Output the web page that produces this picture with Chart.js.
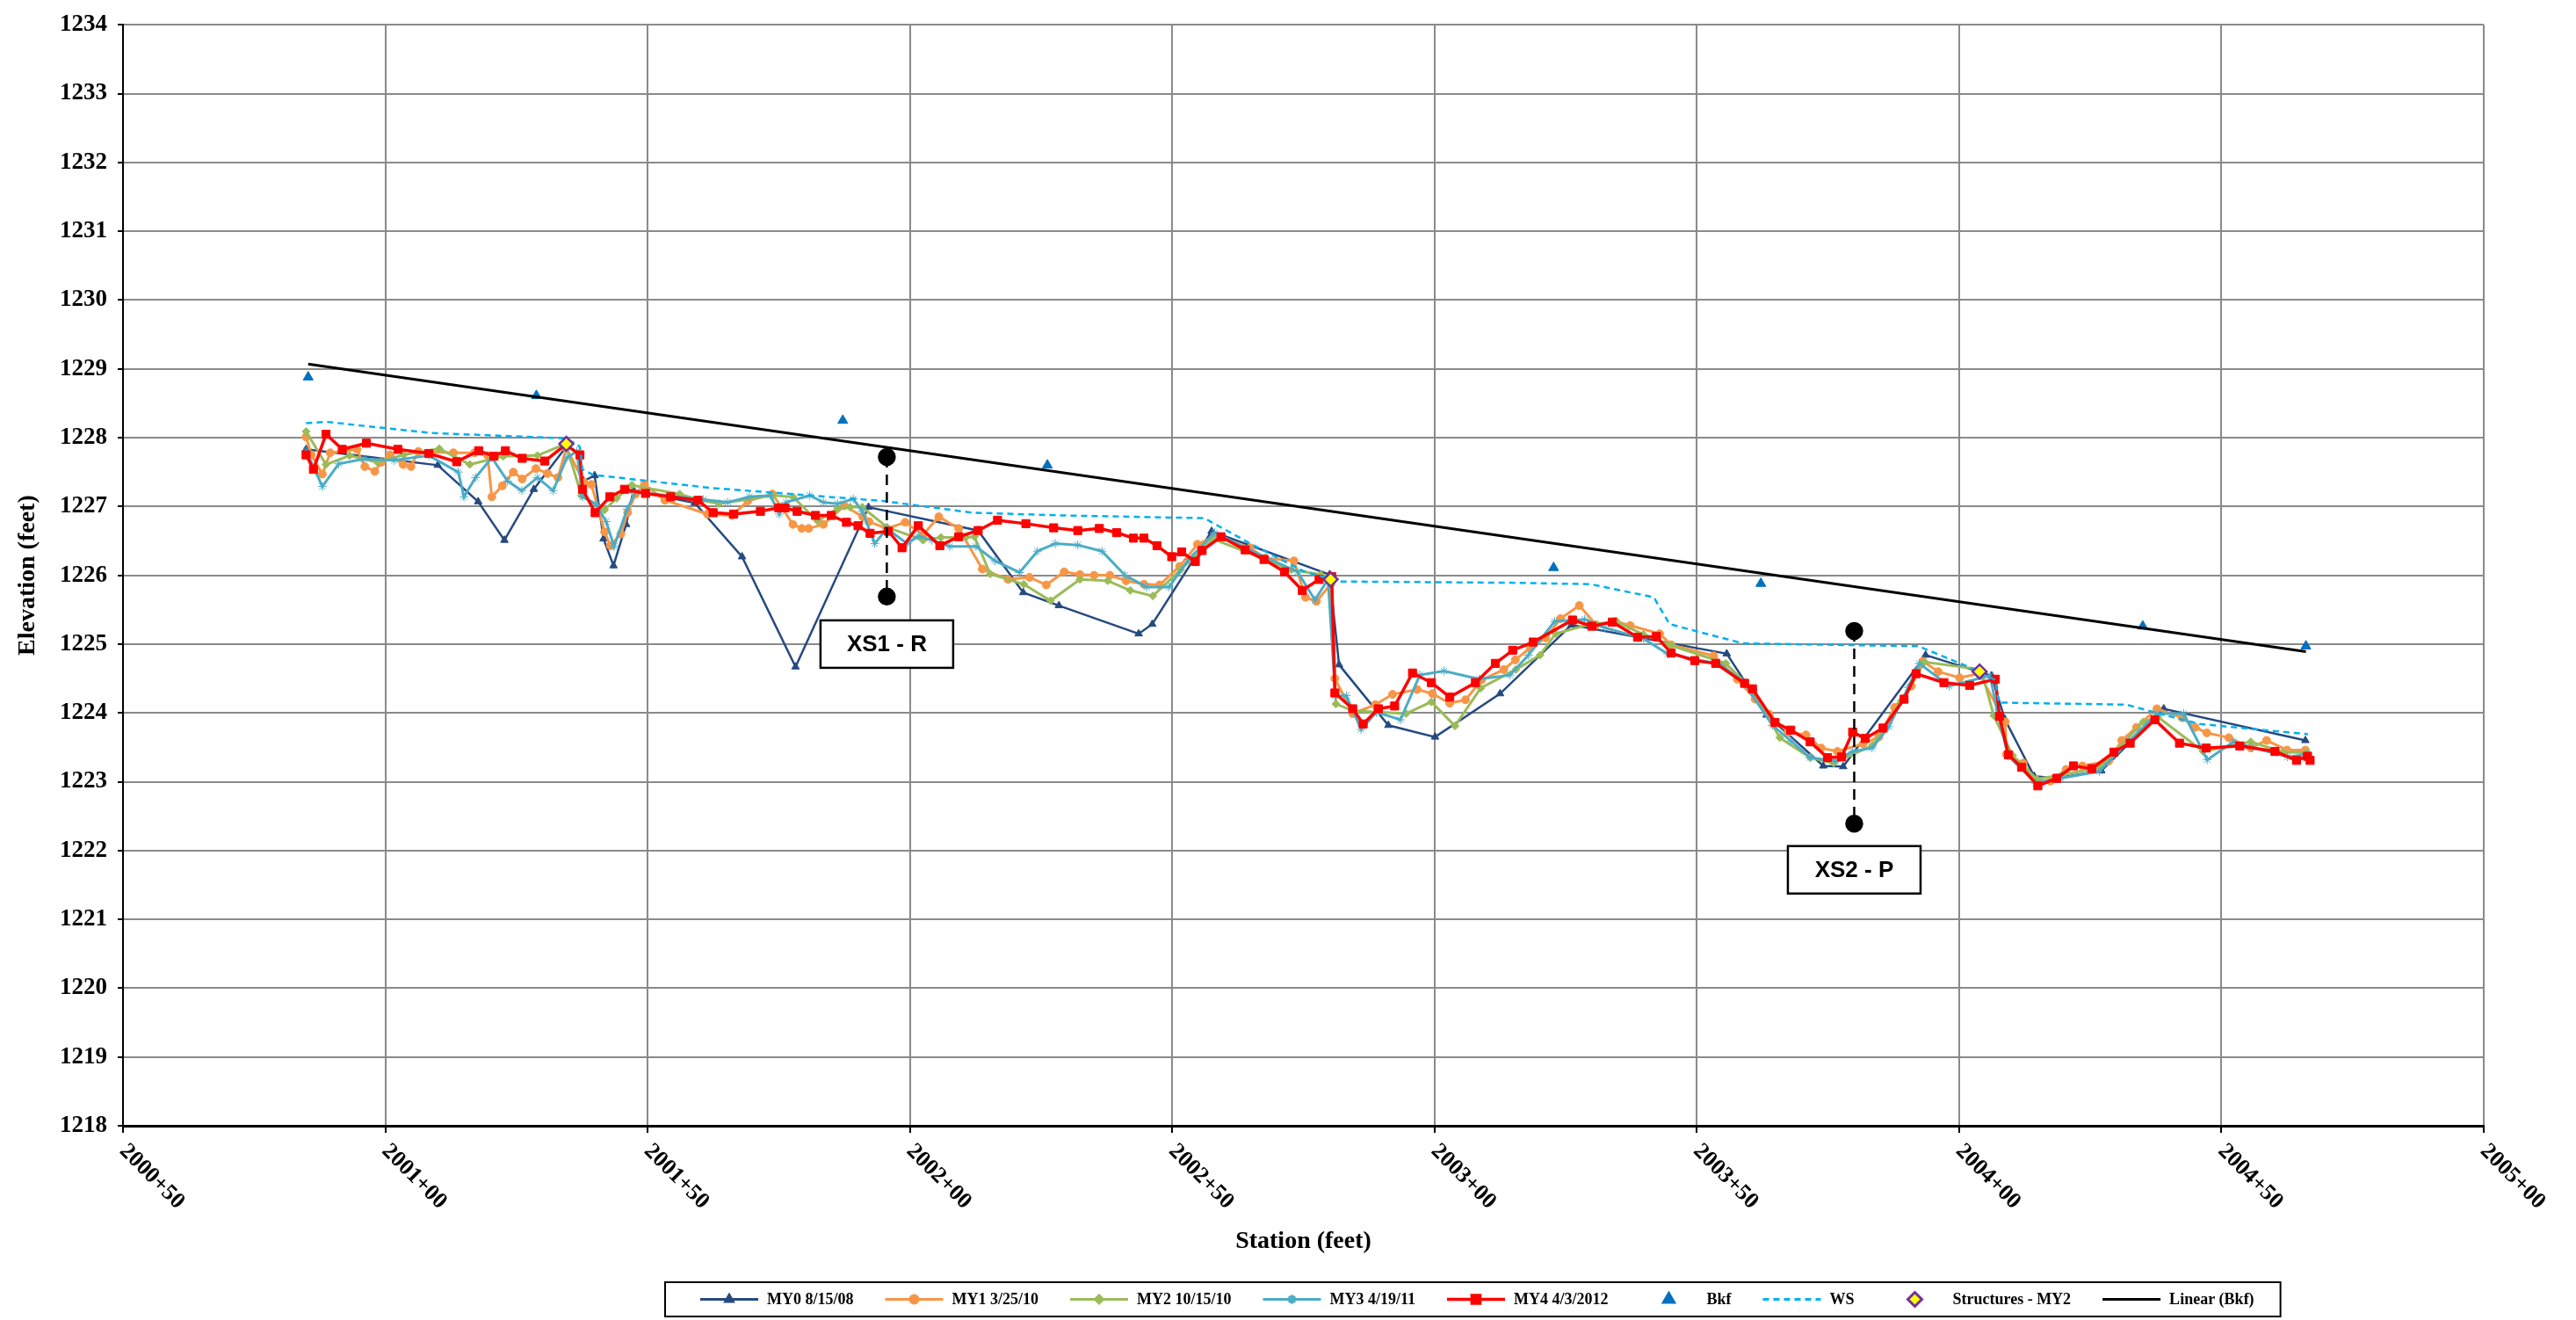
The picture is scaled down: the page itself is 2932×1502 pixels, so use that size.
<!DOCTYPE html>
<html>
<head>
<meta charset="utf-8">
<title>Longitudinal Profile</title>
<script src="https://cdn.jsdelivr.net/npm/chart.js@4.4.1/dist/chart.umd.min.js"></script>
<style>
    html, body { margin: 0; padding: 0; background: #fff; }
    #wrap { width: 2932px; height: 1502px; }
</style>
</head>
<body>
<div id="wrap"><canvas id="profileChart"></canvas></div>
<script>
// stations are feet past 2000+00, elevations in feet

const xTickValues = [50, 100, 150, 200, 250, 300, 350, 400, 450, 500];

const my0Sta = [84.9, 110.0, 117.7, 122.7, 128.3, 134.4, 137.8, 139.9, 141.6, 143.5, 145.9, 147.3, 159.0, 168.0, 178.2, 192.1, 213.0, 221.6, 228.4, 243.6, 246.2, 257.5, 280.0, 281.8, 291.2, 300.1, 312.5, 326.1, 355.7, 363.3, 374.1, 377.9, 393.6, 406.2, 408.7, 414.3, 418.5, 427.1, 439.0, 466.0];
const my0Elev = [1227.83, 1227.60, 1227.07, 1226.51, 1227.25, 1227.86, 1227.37, 1227.45, 1226.53, 1226.14, 1226.74, 1227.23, 1227.05, 1226.27, 1224.67, 1226.99, 1226.65, 1225.75, 1225.56, 1225.15, 1225.29, 1226.64, 1226.01, 1224.70, 1223.82, 1223.65, 1224.28, 1225.28, 1224.86, 1223.97, 1223.23, 1223.22, 1224.84, 1224.54, 1223.91, 1223.08, 1223.05, 1223.16, 1224.06, 1223.60];

const my1Sta = [84.9, 85.9, 88.0, 89.5, 94.6, 96.1, 98.0, 99.2, 100.9, 103.4, 104.9, 106.3, 113.0, 117.0, 119.5, 120.3, 122.3, 124.4, 126.1, 128.7, 130.9, 132.9, 134.5, 137.9, 139.3, 141.8, 142.9, 144.9, 146.2, 147.7, 149.4, 153.3, 161.4, 166.1, 169.1, 173.8, 177.7, 179.4, 180.7, 183.5, 187.5, 191.0, 192.2, 195.6, 199.1, 202.5, 205.5, 209.3, 213.8, 218.7, 222.8, 226.0, 229.4, 232.4, 235.1, 238.1, 241.2, 244.6, 247.6, 251.4, 254.8, 258.1, 264.9, 267.7, 273.2, 275.4, 277.5, 280.3, 281.0, 284.4, 288.7, 292.0, 296.7, 299.6, 302.9, 305.9, 309.0, 313.2, 315.4, 318.3, 321.2, 324.0, 327.6, 330.8, 334.5, 337.3, 342.9, 345.1, 353.2, 357.7, 361.1, 363.8, 367.4, 370.8, 373.7, 376.8, 381.7, 384.7, 387.7, 390.9, 393.1, 396.0, 400.1, 403.8, 408.8, 409.0, 412.2, 414.6, 417.4, 420.4, 423.5, 428.5, 431.0, 433.8, 437.7, 442.5, 445.0, 447.2, 451.4, 455.6, 458.6, 462.5, 466.0];
const my1Elev = [1228.01, 1227.75, 1227.47, 1227.78, 1227.83, 1227.58, 1227.51, 1227.64, 1227.75, 1227.61, 1227.58, 1227.80, 1227.78, 1227.78, 1227.74, 1227.14, 1227.30, 1227.50, 1227.40, 1227.55, 1227.48, 1227.42, 1227.85, 1227.35, 1227.32, 1226.63, 1226.43, 1226.60, 1226.91, 1227.18, 1227.32, 1227.09, 1226.89, 1226.87, 1227.08, 1227.18, 1226.74, 1226.68, 1226.68, 1226.74, 1227.01, 1226.85, 1226.78, 1226.68, 1226.77, 1226.59, 1226.85, 1226.68, 1226.09, 1225.94, 1225.97, 1225.86, 1226.05, 1226.01, 1226.00, 1226.00, 1225.92, 1225.87, 1225.86, 1226.13, 1226.45, 1226.57, 1226.40, 1226.25, 1226.21, 1225.68, 1225.62, 1225.88, 1224.50, 1223.99, 1224.12, 1224.27, 1224.34, 1224.28, 1224.14, 1224.19, 1224.48, 1224.63, 1224.77, 1224.95, 1225.09, 1225.37, 1225.56, 1225.28, 1225.33, 1225.27, 1225.15, 1224.99, 1224.83, 1224.49, 1224.20, 1223.98, 1223.72, 1223.68, 1223.49, 1223.44, 1223.55, 1223.65, 1224.08, 1224.39, 1224.75, 1224.60, 1224.51, 1224.57, 1223.87, 1223.40, 1223.27, 1223.02, 1223.01, 1223.18, 1223.23, 1223.30, 1223.60, 1223.79, 1224.06, 1223.93, 1223.79, 1223.71, 1223.64, 1223.49, 1223.60, 1223.46, 1223.46];

const my2Sta = [84.9, 88.7, 93.2, 98.5, 103.5, 110.3, 116.1, 122.5, 129.0, 134.4, 137.4, 141.8, 144.1, 147.0, 156.1, 159.6, 163.6, 173.8, 177.7, 182.4, 186.2, 188.6, 190.9, 195.6, 202.5, 205.9, 210.6, 212.3, 215.3, 221.7, 226.8, 232.4, 237.7, 242.0, 246.3, 251.6, 257.7, 272.7, 278.3, 280.3, 281.2, 284.5, 294.6, 299.4, 303.9, 308.8, 315.5, 320.1, 323.1, 329.6, 334.8, 339.8, 345.1, 355.5, 360.7, 365.8, 371.6, 376.1, 383.5, 389.0, 393.4, 404.2, 406.6, 410.2, 414.8, 419.6, 426.9, 435.1, 437.9, 446.5, 455.6, 461.7, 466.2];
const my2Elev = [1228.09, 1227.61, 1227.74, 1227.64, 1227.75, 1227.84, 1227.61, 1227.73, 1227.74, 1227.91, 1227.16, 1226.95, 1227.12, 1227.31, 1227.18, 1227.10, 1227.04, 1227.16, 1227.14, 1226.79, 1226.97, 1226.99, 1226.99, 1226.70, 1226.51, 1226.55, 1226.55, 1226.56, 1226.02, 1225.87, 1225.63, 1225.94, 1225.92, 1225.78, 1225.70, 1226.08, 1226.53, 1226.08, 1226.01, 1225.96, 1224.13, 1224.03, 1223.99, 1224.16, 1223.81, 1224.36, 1224.63, 1224.84, 1225.15, 1225.29, 1225.32, 1225.14, 1224.98, 1224.72, 1224.33, 1223.64, 1223.35, 1223.27, 1223.53, 1224.18, 1224.74, 1224.63, 1223.96, 1223.38, 1223.04, 1223.10, 1223.21, 1223.87, 1223.94, 1223.44, 1223.58, 1223.43, 1223.42];

const my3Sta = [84.9, 88.0, 91.1, 95.9, 101.7, 108.3, 113.9, 115.0, 117.2, 120.3, 123.3, 126.0, 129.0, 132.0, 134.6, 136.5, 137.6, 140.2, 142.1, 143.6, 146.1, 147.7, 154.8, 160.6, 165.3, 169.4, 173.4, 175.1, 176.4, 180.9, 183.5, 186.2, 189.2, 190.9, 193.3, 195.6, 199.5, 201.6, 204.2, 207.6, 212.6, 216.2, 220.9, 224.3, 227.7, 232.0, 236.6, 241.0, 245.1, 249.4, 253.1, 258.1, 264.4, 273.9, 277.2, 279.7, 281.1, 283.2, 286.0, 288.9, 293.5, 297.2, 301.8, 308.5, 314.4, 317.9, 322.9, 328.6, 332.4, 339.8, 344.4, 354.3, 358.8, 364.4, 368.0, 371.6, 376.4, 379.7, 383.4, 386.6, 390.3, 392.4, 398.1, 405.9, 407.3, 409.3, 414.6, 419.4, 426.7, 432.4, 437.7, 442.8, 447.3, 452.3, 455.8, 462.6, 466.5];
const my3Elev = [1227.81, 1227.29, 1227.62, 1227.69, 1227.67, 1227.74, 1227.50, 1227.14, 1227.42, 1227.71, 1227.37, 1227.23, 1227.42, 1227.23, 1227.71, 1227.80, 1227.14, 1227.03, 1226.78, 1226.42, 1226.96, 1227.21, 1227.15, 1227.10, 1227.06, 1227.14, 1227.16, 1226.89, 1227.06, 1227.16, 1227.06, 1227.04, 1227.11, 1226.93, 1226.46, 1226.68, 1226.46, 1226.57, 1226.51, 1226.42, 1226.42, 1226.21, 1226.04, 1226.35, 1226.46, 1226.44, 1226.35, 1226.00, 1225.83, 1225.83, 1226.23, 1226.62, 1226.38, 1226.05, 1225.64, 1225.94, 1224.25, 1224.25, 1223.76, 1224.01, 1223.90, 1224.55, 1224.61, 1224.49, 1224.55, 1224.84, 1225.33, 1225.36, 1225.24, 1225.08, 1224.86, 1224.71, 1224.46, 1223.82, 1223.59, 1223.35, 1223.30, 1223.44, 1223.49, 1223.80, 1224.37, 1224.72, 1224.39, 1224.54, 1224.01, 1223.38, 1222.98, 1223.05, 1223.15, 1223.59, 1223.99, 1223.99, 1223.32, 1223.58, 1223.50, 1223.36, 1223.40];

const my4Sta = [84.9, 86.3, 88.7, 91.8, 96.4, 102.4, 108.3, 113.6, 117.8, 120.7, 122.9, 126.1, 130.4, 134.4, 137.1, 137.6, 140.0, 142.8, 145.6, 149.6, 154.4, 159.6, 162.5, 166.4, 171.5, 175.0, 176.2, 178.5, 182.0, 185.0, 187.9, 190.1, 192.4, 195.9, 198.5, 201.6, 205.7, 209.3, 213.0, 216.7, 222.1, 227.4, 232.0, 236.1, 239.4, 242.6, 244.6, 247.1, 249.9, 251.8, 254.4, 255.7, 259.3, 263.9, 267.5, 271.4, 274.8, 278.0, 280.4, 281.0, 284.4, 286.4, 289.3, 292.4, 295.8, 299.4, 302.9, 307.8, 311.6, 314.9, 318.8, 326.3, 330.0, 333.9, 338.7, 342.3, 345.1, 349.6, 353.6, 359.1, 360.6, 364.9, 367.9, 371.6, 374.9, 377.6, 379.7, 382.1, 385.5, 389.5, 391.8, 397.1, 402.0, 406.9, 407.7, 409.4, 411.9, 415.0, 418.6, 421.8, 425.3, 429.5, 432.6, 437.3, 442.0, 447.1, 453.5, 460.2, 464.3, 466.4, 466.9];
const my4Elev = [1227.75, 1227.54, 1228.05, 1227.83, 1227.92, 1227.83, 1227.77, 1227.65, 1227.81, 1227.73, 1227.81, 1227.70, 1227.66, 1227.90, 1227.75, 1227.25, 1226.91, 1227.14, 1227.25, 1227.19, 1227.14, 1227.09, 1226.91, 1226.89, 1226.93, 1226.98, 1226.98, 1226.93, 1226.87, 1226.87, 1226.77, 1226.72, 1226.61, 1226.64, 1226.40, 1226.72, 1226.43, 1226.56, 1226.65, 1226.80, 1226.75, 1226.69, 1226.65, 1226.68, 1226.62, 1226.54, 1226.54, 1226.43, 1226.27, 1226.34, 1226.20, 1226.36, 1226.56, 1226.37, 1226.23, 1226.05, 1225.78, 1225.94, 1225.98, 1224.29, 1224.06, 1223.84, 1224.06, 1224.10, 1224.58, 1224.44, 1224.23, 1224.44, 1224.72, 1224.91, 1225.03, 1225.35, 1225.26, 1225.32, 1225.10, 1225.11, 1224.87, 1224.76, 1224.72, 1224.43, 1224.35, 1223.86, 1223.75, 1223.58, 1223.35, 1223.36, 1223.72, 1223.63, 1223.78, 1224.20, 1224.57, 1224.44, 1224.40, 1224.49, 1223.95, 1223.39, 1223.21, 1222.94, 1223.05, 1223.23, 1223.19, 1223.43, 1223.56, 1223.90, 1223.56, 1223.49, 1223.52, 1223.44, 1223.31, 1223.37, 1223.31];

const bkfSta = [85.3, 128.8, 187.2, 226.2, 322.7, 362.2, 435.0, 466.1];
const bkfElev = [1228.88, 1228.61, 1228.25, 1227.60, 1226.11, 1225.88, 1225.26, 1224.97];

const wsSta = [84.9, 88.7, 99.9, 108.3, 134.0, 136.5, 137.1, 137.6, 139.6, 162.0, 194.8, 211.9, 229.0, 256.1, 264.9, 275.0, 280.3, 282.2, 316.3, 329.8, 341.8, 344.8, 358.8, 392.2, 404.0, 406.8, 407.6, 431.9, 439.1, 445.8, 466.5];
const wsElev = [1228.21, 1228.23, 1228.14, 1228.07, 1227.99, 1227.91, 1227.86, 1227.54, 1227.46, 1227.27, 1227.08, 1226.91, 1226.87, 1226.83, 1226.46, 1226.06, 1225.94, 1225.91, 1225.89, 1225.87, 1225.68, 1225.29, 1225.01, 1224.97, 1224.60, 1224.48, 1224.15, 1224.12, 1223.97, 1223.84, 1223.69];

const structSta = [134.5, 280.2, 403.9];
const structElev = [1227.91, 1225.94, 1224.60];

// end points of the Bkf trend line as drawn
const linearSta = [85.3, 466.1];
const linearElev = [1229.07, 1224.89];

// cross-section markers
const xsNames = ['XS1 - R', 'XS2 - P'];
const xsSta = [195.6, 380.0];
const xsTopElev = [1227.72, 1225.19];
const xsBottomElev = [1225.69, 1222.39];
const xsBoxElev = [1225.0, 1221.72];

const SERIF = '"Liberation Serif", "Times New Roman", serif';

const formatStation = (v) => `${2000 + Math.floor(v / 100)}+${String(v % 100).padStart(2, '0')}`;
const toPoints = (sta, elev) => sta.map((x, i) => ({ x, y: elev[i] }));

const profileSeries = (label, sta, elev, color, pointStyle, radius, extra) => Object.assign({
    label,
    data: toPoints(sta, elev),
    showLine: true,
    borderColor: color,
    backgroundColor: color,
    pointBackgroundColor: color,
    pointBorderColor: color,
    borderWidth: 3,
    pointStyle,
    pointRadius: radius,
    pointBorderWidth: 1,
    tension: 0
}, extra || {});

const datasets = [
    profileSeries('MY0 8/15/08', my0Sta, my0Elev, '#254A80', 'triangle', 5, { order: 9, borderWidth: 2.5 }),
    profileSeries('MY1 3/25/10', my1Sta, my1Elev, '#F79646', 'circle', 4.5, { order: 8 }),
    profileSeries('MY2 10/15/10', my2Sta, my2Elev, '#9BBB59', 'rectRot', 4.5, { order: 7 }),
    profileSeries('MY3 4/19/11', my3Sta, my3Elev, '#4BACC6', 'star', 5, { order: 6 }),
    profileSeries('MY4 4/3/2012', my4Sta, my4Elev, '#FF0000', 'rect', 6.5, { order: 5, borderWidth: 3.5 }),
    {
        label: 'Bkf',
        data: toPoints(bkfSta, bkfElev),
        showLine: false,
        pointStyle: 'triangle',
        pointRadius: 6.5,
        pointBackgroundColor: '#0070C0',
        pointBorderColor: '#0070C0',
        borderColor: '#0070C0',
        order: 3
    },
    {
        label: 'WS',
        data: toPoints(wsSta, wsElev),
        showLine: true,
        borderColor: '#00B0F0',
        borderWidth: 2.5,
        borderDash: [7, 5],
        pointRadius: 0,
        order: 4
    },
    {
        label: 'Structures - MY2',
        data: toPoints(structSta, structElev),
        showLine: false,
        pointStyle: 'rectRot',
        pointRadius: 8,
        pointBorderWidth: 2.5,
        pointBackgroundColor: '#FFFF00',
        pointBorderColor: '#7030A0',
        borderColor: '#7030A0',
        backgroundColor: '#FFFF00',
        order: 0
    },
    {
        label: 'Linear (Bkf)',
        data: toPoints(linearSta, linearElev),
        showLine: true,
        borderColor: '#000000',
        borderWidth: 3,
        pointRadius: 0,
        order: 2
    }
];

xsNames.forEach((name, i) => {
    datasets.push({
        label: name,
        inLegend: false,
        data: [{ x: xsSta[i], y: xsTopElev[i] }, { x: xsSta[i], y: xsBottomElev[i] }],
        showLine: true,
        borderColor: '#000',
        borderWidth: 2.5,
        borderDash: [12, 8],
        pointStyle: 'circle',
        pointRadius: 9,
        pointBackgroundColor: '#000',
        pointBorderColor: '#000',
        order: 1
    });
});

// rotated station labels under the x axis (reading down to the right)
const stationLabels = {
    id: 'stationLabels',
    afterDraw(chart) {
        const { ctx, chartArea } = chart;
        const x = chart.scales.x;
        ctx.save();
        ctx.font = `bold 26px ${SERIF}`;
        ctx.fillStyle = '#000';
        ctx.textAlign = 'left';
        ctx.textBaseline = 'middle';
        x.ticks.forEach(t => {
            ctx.save();
            ctx.translate(x.getPixelForValue(t.value), chartArea.bottom + 25);
            ctx.rotate(Math.PI / 4);
            ctx.fillText(formatStation(t.value), 0, 0);
            ctx.restore();
        });
        ctx.restore();
    }
};

// boxed cross-section names
const xsBoxes = {
    id: 'xsBoxes',
    afterDatasetsDraw(chart) {
        const { ctx } = chart;
        const { x, y } = chart.scales;
        const w = 151, h = 54;
        ctx.save();
        xsNames.forEach((name, i) => {
            const cx = x.getPixelForValue(xsSta[i]);
            const cy = y.getPixelForValue(xsBoxElev[i]);
            ctx.fillStyle = '#fff';
            ctx.fillRect(cx - w / 2, cy - h / 2, w, h);
            ctx.lineWidth = 2.5;
            ctx.strokeStyle = '#000';
            ctx.strokeRect(cx - w / 2, cy - h / 2, w, h);
            ctx.fillStyle = '#000';
            ctx.font = 'bold 26px "Liberation Sans Narrow", "Liberation Sans", Arial, sans-serif';
            ctx.textAlign = 'center';
            ctx.textBaseline = 'middle';
            ctx.fillText(name, cx, cy + 1);
        });
        ctx.restore();
    }
};

// Excel-style legend: line sample with the marker in its middle
const profileLegend = {
    id: 'profileLegend',
    afterDraw(chart) {
        const { ctx } = chart;
        const boxLeft = 757, boxTop = 1459, boxH = 39;
        const midY = boxTop + boxH / 2;
        const sampleW = 66, gap = 10, spacing = 36;
        ctx.save();
        ctx.font = `bold 18px ${SERIF}`;
        let cursor = boxLeft + 40;
        chart.data.datasets.forEach(ds => {
            if (ds.inLegend === false) return;
            if (ds.showLine) {
                ctx.beginPath();
                ctx.setLineDash(ds.borderDash || []);
                ctx.strokeStyle = ds.borderColor;
                ctx.lineWidth = Math.max(ds.borderWidth || 2, 3);
                ctx.moveTo(cursor, midY);
                ctx.lineTo(cursor + sampleW, midY);
                ctx.stroke();
                ctx.setLineDash([]);
            }
            if (ds.pointRadius > 0) {
                ctx.fillStyle = ds.pointBackgroundColor;
                ctx.strokeStyle = ds.pointBorderColor;
                Chart.helpers.drawPoint(ctx, {
                    pointStyle: ds.pointStyle,
                    radius: ds.pointRadius,
                    borderWidth: ds.pointBorderWidth || 1,
                    rotation: 0
                }, cursor + sampleW / 2, midY);
            }
            ctx.fillStyle = '#000';
            ctx.textAlign = 'left';
            ctx.textBaseline = 'middle';
            const tx = cursor + sampleW + gap;
            ctx.fillText(ds.label, tx, midY + 1);
            cursor = tx + ctx.measureText(ds.label).width + spacing;
        });
        const boxRight = cursor - spacing + 30;
        ctx.lineWidth = 2;
        ctx.strokeStyle = '#000';
        ctx.strokeRect(boxLeft, boxTop, boxRight - boxLeft, boxH);
        ctx.restore();
    }
};

new Chart(document.getElementById('profileChart'), {
    type: 'scatter',
    data: { datasets },
    options: {
        responsive: true,
        maintainAspectRatio: false,
        animation: false,
        events: [],
        layout: { padding: { top: 19, right: 105, bottom: 0, left: 0 } },
        plugins: {
            legend: { display: false },
            tooltip: { enabled: false }
        },
        scales: {
            x: {
                type: 'linear',
                min: 50,
                max: 500,
                afterBuildTicks: (scale) => { scale.ticks = xTickValues.map(v => ({ value: v })); },
                afterFit: (scale) => { scale.height = 221; },
                ticks: { display: false },
                grid: { color: '#8a8a8a', lineWidth: 2, tickLength: 8, tickColor: '#000', tickWidth: 2 },
                border: { color: '#000', width: 3 },
                title: {
                    display: true,
                    text: 'Station (feet)',
                    color: '#000',
                    font: { family: SERIF, size: 28, weight: 'bold' },
                    padding: { top: 0, bottom: 72 }
                }
            },
            y: {
                min: 1218,
                max: 1234,
                afterFit: (scale) => { scale.width = 140; },
                ticks: {
                    stepSize: 1,
                    color: '#000',
                    padding: 12,
                    callback: (v) => String(v),
                    font: { family: SERIF, size: 27, weight: 'bold' }
                },
                grid: { color: '#8a8a8a', lineWidth: 2, tickLength: 6, tickColor: '#000', tickWidth: 2 },
                border: { color: '#000', width: 2 },
                title: {
                    display: true,
                    text: 'Elevation (feet)',
                    color: '#000',
                    font: { family: SERIF, size: 28, weight: 'bold' },
                    padding: { top: 15, bottom: 0 }
                }
            }
        }
    },
    plugins: [xsBoxes, stationLabels, profileLegend]
});
</script>
</body>
</html>
